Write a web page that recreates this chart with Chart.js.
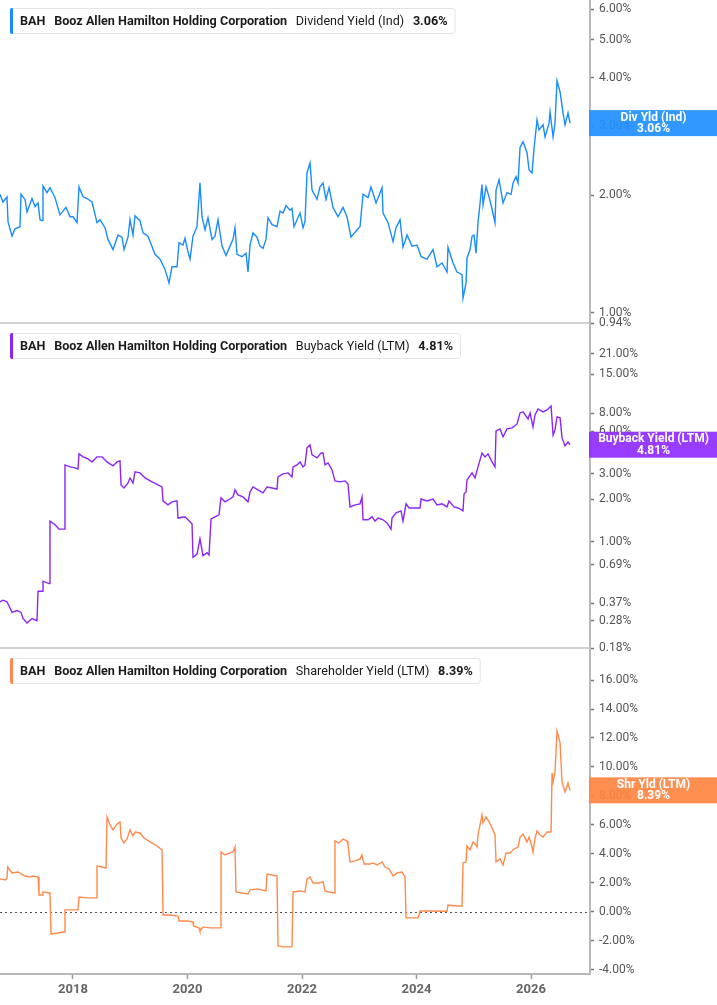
<!DOCTYPE html>
<html>
<head>
<meta charset="utf-8">
<title>BAH yields</title>
<script src="https://cdn.jsdelivr.net/npm/chart.js@4.4.1/dist/chart.umd.min.js"></script>
<style>
  html, body { margin: 0; padding: 0; background: #fff; }
  body { width: 717px; height: 1005px; position: relative; overflow: hidden; }
  .panel { position: absolute; left: 0; width: 717px; }
</style>
</head>
<body>
<div class="panel" style="top:0;height:340px"><canvas id="divChart"></canvas></div>
<div class="panel" style="top:310px;height:355px"><canvas id="buyChart"></canvas></div>
<div class="panel" style="top:635px;height:370px"><canvas id="shrChart"></canvas></div>
<script>
// Dividend yield (Ind), % -- dates as decimal years
const divYears = [
  2016.725, 2016.777, 2016.847, 2016.865, 2016.935, 2016.987, 2017.074, 2017.092, 2017.162, 2017.197,
  2017.284, 2017.336, 2017.389, 2017.424, 2017.459, 2017.476, 2017.546, 2017.598, 2017.686, 2017.773,
  2017.878, 2017.948, 2018.000, 2018.070, 2018.105, 2018.175, 2018.245, 2018.332, 2018.419, 2018.472,
  2018.559, 2018.611, 2018.699, 2018.786, 2018.856, 2018.891, 2018.961, 2018.996, 2019.048, 2019.083,
  2019.170, 2019.223, 2019.310, 2019.432, 2019.520, 2019.607, 2019.677, 2019.729, 2019.817, 2019.852,
  2019.921, 2019.956, 2020.009, 2020.044, 2020.096, 2020.166, 2020.218, 2020.253, 2020.306, 2020.358,
  2020.428, 2020.480, 2020.533, 2020.603, 2020.672, 2020.742, 2020.795, 2020.830, 2020.865, 2020.952,
  2021.022, 2021.057, 2021.092, 2021.144, 2021.214, 2021.266, 2021.319, 2021.371, 2021.406, 2021.476,
  2021.563, 2021.616, 2021.668, 2021.721, 2021.790, 2021.825, 2021.860, 2021.965, 2022.018, 2022.052,
  2022.087, 2022.140, 2022.175, 2022.262, 2022.314, 2022.367, 2022.419, 2022.472, 2022.541, 2022.629,
  2022.716, 2022.786, 2022.856, 2022.961, 2023.013, 2023.066, 2023.153, 2023.205, 2023.293, 2023.398,
  2023.415, 2023.502, 2023.590, 2023.642, 2023.712, 2023.764, 2023.834, 2023.921, 2024.009, 2024.079,
  2024.183, 2024.288, 2024.358, 2024.445, 2024.533, 2024.550, 2024.638, 2024.707, 2024.795, 2024.812,
  2024.865, 2024.882, 2024.935, 2024.970, 2025.004, 2025.039, 2025.074, 2025.144, 2025.162, 2025.214,
  2025.267, 2025.319, 2025.371, 2025.389, 2025.441, 2025.511, 2025.581, 2025.651, 2025.686, 2025.738,
  2025.773, 2025.808, 2025.860, 2025.930, 2025.965, 2026.017, 2026.052, 2026.105, 2026.140, 2026.210,
  2026.245, 2026.315, 2026.332, 2026.385, 2026.419, 2026.454, 2026.507, 2026.559, 2026.594, 2026.646,
  2026.681
];
const divValues = [
  2.01, 1.92, 1.98, 1.71, 1.57, 1.64, 1.66, 2.01, 1.95, 1.81,
  1.96, 1.87, 1.91, 1.73, 1.72, 2.11, 2.03, 2.09, 1.97, 1.78,
  1.86, 1.76, 1.76, 1.70, 2.10, 1.98, 1.96, 1.92, 1.70, 1.73,
  1.65, 1.54, 1.45, 1.58, 1.56, 1.45, 1.56, 1.73, 1.58, 1.77,
  1.72, 1.60, 1.57, 1.41, 1.37, 1.29, 1.19, 1.31, 1.31, 1.51,
  1.49, 1.55, 1.43, 1.37, 1.57, 1.66, 2.15, 1.76, 1.63, 1.75,
  1.54, 1.57, 1.73, 1.48, 1.40, 1.48, 1.54, 1.65, 1.41, 1.39,
  1.42, 1.27, 1.49, 1.60, 1.56, 1.48, 1.46, 1.54, 1.75, 1.68,
  1.66, 1.82, 1.80, 1.88, 1.83, 1.85, 1.66, 1.80, 1.65, 1.71,
  2.28, 2.42, 2.06, 1.95, 2.10, 2.15, 1.95, 2.09, 1.86, 1.76,
  1.86, 1.76, 1.56, 1.63, 1.66, 2.01, 1.97, 2.10, 1.91, 2.09,
  1.80, 1.70, 1.52, 1.65, 1.73, 1.47, 1.58, 1.48, 1.49, 1.39,
  1.37, 1.45, 1.31, 1.34, 1.27, 1.47, 1.34, 1.27, 1.25, 1.09,
  1.19, 1.38, 1.45, 1.57, 1.58, 1.42, 1.70, 2.13, 1.89, 2.10,
  1.98, 1.84, 1.70, 2.06, 2.19, 1.91, 2.03, 2.01, 2.15, 2.23,
  2.15, 2.65, 2.74, 2.57, 2.32, 2.28, 2.63, 3.12, 2.94, 3.03,
  2.82, 3.06, 3.27, 2.82, 3.06, 3.93, 3.68, 3.25, 3.03, 3.25,
  3.06
];

// Buyback yield (LTM), %
const buyYears = [
  2016.725, 2016.777, 2016.847, 2016.935, 2017.022, 2017.092, 2017.127, 2017.197, 2017.284, 2017.371,
  2017.389, 2017.459, 2017.476, 2017.581, 2017.598, 2017.686, 2017.756, 2017.843, 2017.860, 2017.948,
  2018.035, 2018.087, 2018.105, 2018.175, 2018.262, 2018.332, 2018.419, 2018.507, 2018.594, 2018.699,
  2018.769, 2018.821, 2018.839, 2018.891, 2018.961, 2018.996, 2019.048, 2019.083, 2019.170, 2019.258,
  2019.380, 2019.485, 2019.555, 2019.572, 2019.659, 2019.729, 2019.817, 2019.834, 2019.956, 2020.009,
  2020.079, 2020.096, 2020.166, 2020.218, 2020.271, 2020.341, 2020.376, 2020.411, 2020.480, 2020.550,
  2020.585, 2020.655, 2020.742, 2020.795, 2020.830, 2020.882, 2020.970, 2021.057, 2021.092, 2021.144,
  2021.231, 2021.319, 2021.389, 2021.476, 2021.563, 2021.581, 2021.668, 2021.755, 2021.825, 2021.843,
  2021.913, 2021.965, 2022.018, 2022.052, 2022.087, 2022.140, 2022.175, 2022.262, 2022.332, 2022.367,
  2022.402, 2022.454, 2022.524, 2022.576, 2022.664, 2022.751, 2022.803, 2022.838, 2022.926, 2023.013,
  2023.048, 2023.066, 2023.153, 2023.223, 2023.275, 2023.328, 2023.415, 2023.485, 2023.555, 2023.572,
  2023.642, 2023.729, 2023.764, 2023.817, 2023.869, 2023.974, 2024.061, 2024.079, 2024.183, 2024.288,
  2024.358, 2024.445, 2024.533, 2024.568, 2024.655, 2024.725, 2024.812, 2024.830, 2024.865, 2024.882,
  2024.970, 2025.022, 2025.074, 2025.144, 2025.197, 2025.249, 2025.319, 2025.371, 2025.389, 2025.459,
  2025.511, 2025.581, 2025.668, 2025.756, 2025.808, 2025.860, 2025.948, 2025.983, 2026.035, 2026.070,
  2026.122, 2026.210, 2026.280, 2026.350, 2026.385, 2026.419, 2026.454, 2026.507, 2026.542, 2026.594,
  2026.646, 2026.681
];
const buyValues = [
  0.38, 0.39, 0.38, 0.32, 0.33, 0.32, 0.29, 0.27, 0.29, 0.28,
  0.45, 0.45, 0.53, 0.51, 1.40, 1.32, 1.23, 1.23, 3.47, 3.36,
  3.31, 3.25, 4.15, 3.95, 3.82, 3.64, 3.95, 3.95, 3.64, 3.42,
  3.64, 3.70, 2.51, 2.39, 2.59, 2.81, 2.59, 3.10, 3.05, 2.81,
  2.64, 2.51, 2.43, 1.94, 1.82, 1.91, 1.94, 1.47, 1.50, 1.43,
  1.34, 0.78, 0.82, 1.05, 0.80, 0.84, 0.81, 1.45, 1.50, 1.55,
  2.04, 1.91, 2.00, 2.07, 2.32, 2.14, 2.07, 1.91, 2.24, 2.43,
  2.32, 2.21, 2.43, 2.39, 2.35, 2.86, 3.00, 3.05, 2.86, 3.36,
  3.47, 3.64, 3.36, 3.47, 4.57, 4.79, 4.08, 3.89, 4.21, 4.21,
  3.47, 3.58, 3.20, 2.68, 2.64, 2.68, 2.55, 1.76, 1.82, 1.85,
  2.07, 1.43, 1.43, 1.50, 1.40, 1.47, 1.43, 1.36, 1.23, 1.47,
  1.60, 1.65, 1.40, 1.85, 1.73, 1.73, 1.73, 2.00, 1.94, 2.00,
  1.82, 1.85, 1.76, 1.94, 1.76, 1.73, 1.65, 2.17, 2.24, 2.72,
  3.05, 2.81, 3.36, 4.21, 3.95, 4.15, 3.64, 3.36, 6.01, 6.21,
  5.46, 6.21, 6.31, 6.73, 8.04, 8.17, 7.30, 8.04, 6.41, 7.78,
  8.58, 8.17, 8.44, 9.00, 5.63, 6.11, 7.54, 7.42, 5.37, 4.72,
  5.03, 4.81
];

// Shareholder yield (LTM), %
const shrYears = [
  2016.725, 2016.812, 2016.847, 2016.860, 2016.935, 2017.039, 2017.162, 2017.249, 2017.301, 2017.389,
  2017.406, 2017.459, 2017.476, 2017.598, 2017.616, 2017.738, 2017.843, 2017.860, 2017.948, 2018.087,
  2018.105, 2018.245, 2018.402, 2018.419, 2018.507, 2018.577, 2018.594, 2018.646, 2018.699, 2018.769,
  2018.821, 2018.839, 2018.891, 2018.943, 2018.996, 2019.048, 2019.083, 2019.170, 2019.240, 2019.345,
  2019.467, 2019.555, 2019.572, 2019.694, 2019.834, 2019.852, 2019.991, 2020.096, 2020.105, 2020.201,
  2020.218, 2020.271, 2020.393, 2020.568, 2020.585, 2020.655, 2020.742, 2020.795, 2020.830, 2020.847,
  2020.952, 2021.057, 2021.092, 2021.231, 2021.371, 2021.389, 2021.476, 2021.563, 2021.581, 2021.668,
  2021.738, 2021.825, 2021.843, 2021.965, 2022.052, 2022.087, 2022.140, 2022.192, 2022.279, 2022.367,
  2022.402, 2022.472, 2022.559, 2022.576, 2022.646, 2022.716, 2022.786, 2022.803, 2022.838, 2022.926,
  2023.013, 2023.048, 2023.083, 2023.188, 2023.240, 2023.310, 2023.398, 2023.450, 2023.520, 2023.590,
  2023.659, 2023.747, 2023.799, 2023.817, 2023.939, 2024.026, 2024.061, 2024.236, 2024.533, 2024.550,
  2024.707, 2024.795, 2024.812, 2024.865, 2024.882, 2024.935, 2024.987, 2025.022, 2025.057, 2025.074,
  2025.144, 2025.162, 2025.214, 2025.267, 2025.319, 2025.371, 2025.389, 2025.459, 2025.511, 2025.564,
  2025.633, 2025.703, 2025.773, 2025.808, 2025.860, 2025.930, 2025.965, 2026.017, 2026.035, 2026.070,
  2026.105, 2026.157, 2026.210, 2026.280, 2026.350, 2026.367, 2026.385, 2026.419, 2026.454, 2026.472,
  2026.507, 2026.542, 2026.594, 2026.646, 2026.681
];
const shrValues = [
  2.28, 2.21, 2.34, 3.10, 2.69, 2.76, 2.48, 2.41, 2.48, 2.41,
  1.17, 1.17, 1.38, 1.31, -1.52, -1.45, -1.38, 0.14, 0.14, 0.14,
  1.03, 0.97, 0.97, 3.17, 3.10, 3.03, 6.55, 6.00, 5.66, 6.07,
  6.21, 5.10, 4.76, 5.03, 5.66, 5.24, 5.52, 5.45, 5.10, 4.83,
  4.55, 4.28, -0.21, -0.21, -0.28, -0.62, -0.62, -0.69, -0.97, -1.10,
  -1.31, -1.03, -1.10, -1.10, 4.14, 3.93, 4.07, 4.14, 4.48, 1.38,
  1.31, 1.24, 1.52, 1.59, 1.45, 2.62, 2.55, 2.48, -2.34, -2.41,
  -2.41, -2.41, 1.38, 1.45, 1.38, 2.28, 2.41, 2.00, 2.00, 2.07,
  1.45, 1.38, 1.31, 4.90, 4.76, 5.03, 4.90, 4.62, 3.45, 3.52,
  3.66, 3.93, 3.31, 3.31, 3.38, 3.24, 3.45, 3.10, 2.97, 2.48,
  2.69, 2.76, 2.41, -0.41, -0.41, -0.41, 0.07, 0.07, 0.05, 0.48,
  0.41, 0.41, 3.38, 3.45, 4.55, 4.28, 4.83, 4.69, 4.48, 5.31,
  6.69, 6.14, 6.55, 6.21, 5.79, 5.31, 3.45, 3.66, 3.24, 4.07,
  4.07, 4.34, 4.48, 5.17, 5.38, 4.83, 5.17, 4.48, 4.14, 5.10,
  5.59, 5.31, 5.17, 5.52, 5.52, 9.59, 8.97, 9.66, 12.48, 12.21,
  11.66, 8.97, 8.28, 8.90, 8.39
];

// axis ticks
const divTicks = [6, 5, 4, 3, 2, 1, 0.94];
const buyTicks = [21, 15, 8, 6, 3, 2, 1, 0.69, 0.37, 0.28, 0.18];
const shrTicks = [16, 14, 12, 10, 8, 6, 4, 2, 0, -2, -4];
const yearTicks = [2018, 2020, 2022, 2024, 2026];

const ticker = 'BAH';
const company = 'Booz Allen Hamilton Holding Corporation';

const X_MIN = 2016.725, X_MAX = 2027.03;
const FONT = 'Roboto, "Noto Sans", sans-serif';
Chart.defaults.font.family = FONT;

function points(xs, ys) {
  return xs.map((x, i) => ({ x: x, y: ys[i] }));
}
function last(arr) { return arr[arr.length - 1]; }

// grey frame line under panel + dotted zero line
const frame = {
  id: 'frame',
  beforeDatasetsDraw(chart, args, o) {
    const { ctx, chartArea, scales } = chart;
    ctx.save();
    if (o.zero) {
      const y = Math.round(scales.y.getPixelForValue(0)) + 0.5;
      ctx.strokeStyle = '#555';
      ctx.lineWidth = 1.2;
      ctx.setLineDash([2, 3]);
      ctx.beginPath();
      ctx.moveTo(chartArea.left, y);
      ctx.lineTo(chartArea.right, y);
      ctx.stroke();
    }
    ctx.restore();
  },
  afterDraw(chart, args, o) {
    if (!o.bottom) return;
    const { ctx, chartArea } = chart;
    ctx.save();
    ctx.strokeStyle = '#c2c2c2';
    ctx.lineWidth = 1.5;
    ctx.beginPath();
    ctx.moveTo(0, chartArea.bottom);
    ctx.lineTo(chartArea.right, chartArea.bottom);
    ctx.stroke();
    ctx.restore();
  }
};

// top-left legend card
const legendBox = {
  id: 'legendBox',
  afterDraw(chart, args, o) {
    const { ctx, chartArea } = chart;
    const parts = [
      { text: ticker, bold: true },
      { text: company, bold: true },
      { text: o.metric, bold: false },
      { text: o.value.toFixed(2) + '%', bold: true }
    ];
    const sx = 0.97, gap = 9, size = 13;
    ctx.save();
    let w = 0;
    parts.forEach(p => {
      ctx.font = (p.bold ? 'bold ' : '') + size + 'px ' + FONT;
      p.w = ctx.measureText(p.text).width;
      w += p.w;
    });
    w += gap * (parts.length - 1);
    const x0 = chartArea.left + 10, y0 = chartArea.top + 8, h = 25;
    const bw = 10 + w * sx + 7;
    ctx.fillStyle = '#fff';
    ctx.strokeStyle = '#e4e4e4';
    ctx.lineWidth = 1;
    ctx.beginPath();
    ctx.roundRect(x0 + 0.5, y0 + 0.5, bw, h, 3);
    ctx.fill();
    ctx.stroke();
    ctx.fillStyle = o.color;
    ctx.beginPath();
    ctx.roundRect(x0, y0, 3, h + 1, [2, 0, 0, 2]);
    ctx.fill();
    ctx.translate(x0 + 10, y0 + h / 2 + 1);
    ctx.scale(sx, 1);
    ctx.fillStyle = '#1b1b1b';
    ctx.textBaseline = 'middle';
    let x = 0;
    parts.forEach(p => {
      ctx.font = (p.bold ? 'bold ' : '') + size + 'px ' + FONT;
      ctx.fillText(p.text, x, 0);
      x += p.w + gap;
    });
    ctx.restore();
  }
};

// coloured tag with the latest value on the right axis
const lastTag = {
  id: 'lastTag',
  afterDraw(chart, args, o) {
    const { ctx, chartArea, scales } = chart;
    const y = scales.y.getPixelForValue(o.value);
    ctx.save();
    ctx.globalAlpha = 0.92;
    ctx.fillStyle = o.color;
    ctx.fillRect(chartArea.right - 1, y - 13, chart.width - chartArea.right + 1, 26);
    ctx.globalAlpha = 1;
    ctx.fillStyle = '#fff';
    ctx.font = 'bold 12px ' + FONT;
    ctx.textAlign = 'center';
    ctx.textBaseline = 'middle';
    const cx = (chartArea.right + chart.width) / 2;
    ctx.fillText(o.label, cx, y - 5.5);
    ctx.fillText(o.value.toFixed(2) + '%', cx, y + 6);
    ctx.restore();
  }
};

function yAxis(type, min, max, ticks) {
  return {
    type: type,
    position: 'right',
    min: min,
    max: max,
    bounds: 'data',
    afterBuildTicks: s => { s.ticks = ticks.map(v => ({ value: v })); },
    afterFit: s => { s.width = 127; s.paddingTop = 0; s.paddingBottom = 0; },
    grid: { drawOnChartArea: false, drawTicks: true, tickLength: 4, tickColor: '#777', tickWidth: 1.5 },
    border: { display: true, color: '#b8b8b8', width: 2 },
    ticks: {
      color: '#555',
      font: { size: 12 },
      padding: 5,
      autoSkip: false,
      callback: v => Number(v).toFixed(2) + '%'
    }
  };
}

function xAxis(show) {
  if (!show) return { type: 'linear', display: false, min: X_MIN, max: X_MAX };
  return {
    type: 'linear',
    min: X_MIN,
    max: X_MAX,
    bounds: 'data',
    afterBuildTicks: s => { s.ticks = yearTicks.map(v => ({ value: v })); },
    afterFit: s => { s.height = 31; s.paddingLeft = 0; s.paddingRight = 0; },
    grid: { drawOnChartArea: false, drawTicks: true, tickLength: 5, tickColor: '#999', tickWidth: 1.5 },
    border: { display: true, color: '#b8b8b8', width: 2 },
    ticks: {
      color: '#666',
      font: { size: 13, weight: 'bold' },
      padding: 3,
      maxRotation: 0,
      autoSkip: false,
      callback: v => String(v)
    }
  };
}

function panel(id, cfg) {
  return new Chart(document.getElementById(id), {
    type: 'line',
    data: {
      datasets: [{
        data: points(cfg.xs, cfg.ys),
        borderColor: cfg.color,
        borderWidth: 1.4,
        pointRadius: 0,
        tension: 0
      }]
    },
    options: {
      responsive: true,
      maintainAspectRatio: false,
      animation: false,
      layout: { padding: cfg.padding },
      plugins: {
        legend: { display: false },
        tooltip: { enabled: false },
        frame: { bottom: !cfg.showX, zero: cfg.zero },
        legendBox: { metric: cfg.metric, value: last(cfg.ys), color: cfg.color },
        lastTag: { label: cfg.tag, value: last(cfg.ys), color: cfg.tagColor }
      },
      scales: {
        x: xAxis(cfg.showX),
        y: yAxis(cfg.yType, cfg.yMin, cfg.yMax, cfg.ticks)
      }
    },
    plugins: [frame, legendBox, lastTag]
  });
}

panel('divChart', {
  xs: divYears, ys: divValues, color: '#1a8cff', tagColor: '#1e8fff',
  metric: 'Dividend Yield (Ind)', tag: 'Div Yld (Ind)',
  yType: 'logarithmic', yMin: 0.94, yMax: 6.33, ticks: divTicks,
  padding: { top: 0, bottom: 17, left: 0, right: 0 }, showX: false, zero: false
});

panel('buyChart', {
  xs: buyYears, ys: buyValues, color: '#8b26f7', tagColor: '#8f2bff',
  metric: 'Buyback Yield (LTM)', tag: 'Buyback Yield (LTM)',
  yType: 'logarithmic', yMin: 0.18, yMax: 33.3, ticks: buyTicks,
  padding: { top: 15, bottom: 17, left: 0, right: 0 }, showX: false, zero: false
});

panel('shrChart', {
  xs: shrYears, ys: shrValues, color: '#ff8a4c', tagColor: '#ff8442',
  metric: 'Shareholder Yield (LTM)', tag: 'Shr Yld (LTM)',
  yType: 'linear', yMin: -4.28, yMax: 18.07, ticks: shrTicks,
  padding: { top: 15, bottom: 0, left: 0, right: 0 }, showX: true, zero: true
});
</script>
</body>
</html>
